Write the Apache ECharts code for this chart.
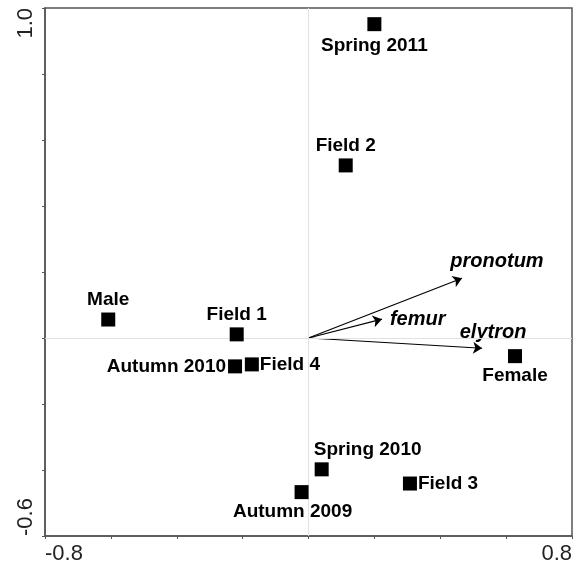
<!DOCTYPE html>
<html>
<head>
<meta charset="utf-8">
<script src="https://cdn.jsdelivr.net/npm/echarts@6/dist/echarts.min.js"></script>
<style>
  html, body { margin: 0; padding: 0; background: #fff; }
  #chart { width: 574px; height: 569px; }
</style>
</head>
<body>
<div id="chart"></div>
<script>
// Sample scores (axis 1, axis 2)
const sampleNames = ['Spring 2011', 'Field 2', 'Male', 'Field 1', 'Autumn 2010',
                     'Field 4', 'Female', 'Spring 2010', 'Autumn 2009', 'Field 3'];
const sampleX = [0.20, 0.113, -0.608, -0.218, -0.223, -0.172, 0.627, 0.040, -0.021, 0.308];
const sampleY = [0.951, 0.523, 0.056, 0.011, -0.086, -0.080, -0.055, -0.398, -0.467, -0.441];

// Trait loading vectors (from origin)
const traitNames = ['pronotum', 'femur', 'elytron'];
const traitX = [0.466, 0.223, 0.527];
const traitY = [0.181, 0.057, -0.031];

// Axis ranges and tick step
const xRange = [-0.8, 0.8];
const yRange = [-0.6, 1.0];
const tickStep = 0.2;

// Label placement for each sample marker
const sampleLabelPlace = {
  'Spring 2011': { position: 'bottom', offset: [0, 2] },
  'Field 2':     { position: 'top', offset: [0, 0] },
  'Male':        { position: 'top', offset: [0, 0] },
  'Field 1':     { position: 'top', offset: [0, 0] },
  'Autumn 2010': { position: 'left', offset: [1, 0] },
  'Field 4':     { position: 'right', offset: [-2, 0] },
  'Female':      { position: 'bottom', offset: [0, 0] },
  'Spring 2010': { position: 'top', offset: [46, 0] },
  'Autumn 2009': { position: 'bottom', offset: [-9, 0] },
  'Field 3':     { position: 'right', offset: [-2, 0] }
};
const traitLabelPlace = {
  'pronotum': { position: 'top', offset: [35, -3] },
  'femur':    { position: 'right', offset: [4, 0] },
  'elytron':  { position: 'top', offset: [11, -2] }
};

const FONT = '"Liberation Sans", Arial, sans-serif';
const fmtEnds = (lo, hi) => v => (Math.abs(v - lo) < 1e-9 || Math.abs(v - hi) < 1e-9) ? v.toFixed(1) : '';

const axisCommon = {
  type: 'value',
  interval: tickStep,
  axisLine: { show: true, onZero: false, lineStyle: { color: '#555', width: 1.5 } },
  axisTick: { show: true, length: 3, lineStyle: { color: '#555' } },
  splitLine: { show: false }
};

const samples = sampleNames.map((n, i) => ({
  name: n,
  value: [sampleX[i], sampleY[i]],
  label: sampleLabelPlace[n]
}));

const traitTips = traitNames.map((n, i) => ({
  name: n,
  value: [traitX[i], traitY[i]],
  label: traitLabelPlace[n]
}));

const traitVectors = traitNames.map((n, i) => ({
  coords: [[0, 0], [traitX[i], traitY[i]]]
}));

const chart = echarts.init(document.getElementById('chart'), null, { renderer: 'canvas' });
chart.setOption({
  animation: false,
  backgroundColor: '#fff',
  grid: {
    left: 45, right: 2, top: 8, bottom: 33,
    show: true, borderColor: '#555', borderWidth: 1.5,
    containLabel: false, outerBoundsMode: 'none'
  },
  xAxis: Object.assign({}, axisCommon, {
    min: xRange[0], max: xRange[1],
    axisLabel: {
      formatter: fmtEnds(xRange[0], xRange[1]),
      fontFamily: FONT, fontSize: 22, color: '#222', margin: 7,
      alignMinLabel: 'left', alignMaxLabel: 'right', showMinLabel: true, showMaxLabel: true
    }
  }),
  yAxis: Object.assign({}, axisCommon, {
    min: yRange[0], max: yRange[1],
    axisLabel: {
      formatter: fmtEnds(yRange[0], yRange[1]),
      rotate: 90,
      fontFamily: FONT, fontSize: 22, color: '#222', margin: 8,
      alignMinLabel: 'left', alignMaxLabel: 'right', showMinLabel: true, showMaxLabel: true
    }
  }),
  series: [
    {
      // origin reference lines
      type: 'scatter',
      data: [],
      silent: true,
      markLine: {
        silent: true,
        symbol: 'none',
        label: { show: false },
        lineStyle: { color: '#e2e2e2', width: 1, type: 'solid' },
        data: [{ xAxis: 0 }, { yAxis: 0 }]
      }
    },
    {
      type: 'lines',
      coordinateSystem: 'cartesian2d',
      silent: true,
      symbol: ['none', 'arrow'],
      symbolSize: [0, 9],
      lineStyle: { color: '#000', width: 1.2, opacity: 1 },
      data: traitVectors,
      z: 3
    },
    {
      type: 'scatter',
      symbolSize: 0,
      silent: true,
      itemStyle: { color: '#000', opacity: 1 },
      data: traitTips,
      label: {
        show: true,
        formatter: p => p.name,
        fontFamily: FONT, fontSize: 20, fontWeight: 'bold', fontStyle: 'italic',
        color: '#000', opacity: 1, distance: 4
      },
      z: 4
    },
    {
      type: 'scatter',
      symbol: 'rect',
      symbolSize: 14,
      itemStyle: { color: '#000', opacity: 1 },
      silent: true,
      data: samples,
      label: {
        show: true,
        formatter: p => p.name,
        fontFamily: FONT, fontSize: 19, fontWeight: 'bold',
        color: '#000', distance: 3
      },
      z: 5
    }
  ]
});
</script>
</body>
</html>
